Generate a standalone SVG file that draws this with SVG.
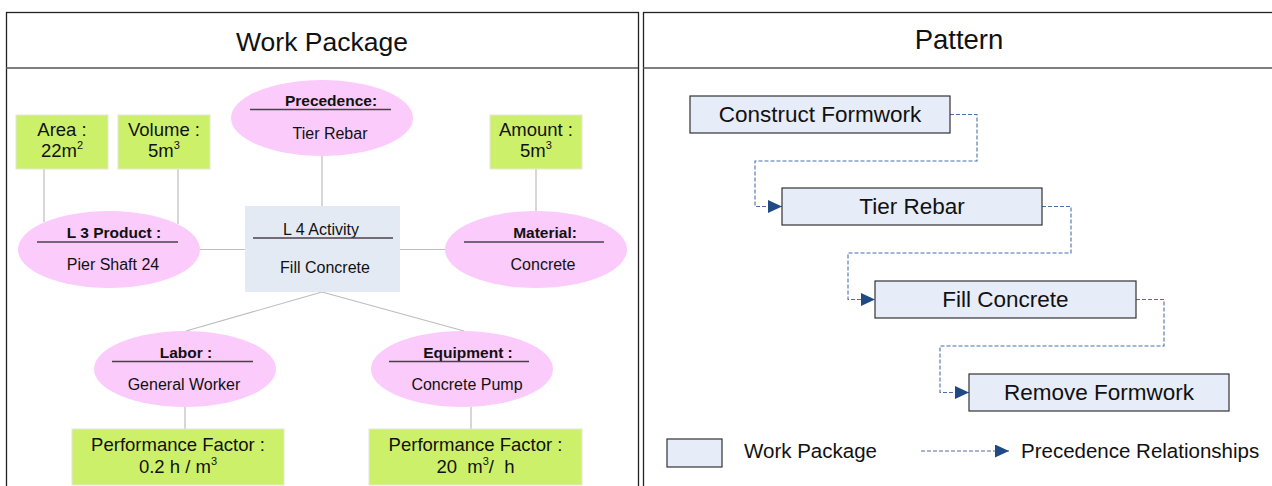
<svg xmlns="http://www.w3.org/2000/svg" width="1272" height="486" viewBox="0 0 1272 486">
<style>
text{font-family:"Liberation Sans",Arial,sans-serif;fill:#111}
.title{font-size:26.5px;text-anchor:middle}
.panel{fill:#fff;stroke:#222;stroke-width:1.3}
.sep{stroke:#555;stroke-width:1.5}
.green{fill:#CDF06A;stroke:#E4E8D8;stroke-width:1}
.pink{fill:#FBCBFB}
.act{fill:#E4EAF4}
.t18{font-size:18.5px;text-anchor:middle}
.t16{font-size:16px;text-anchor:middle}
.b15{font-size:15.5px;font-weight:bold;text-anchor:middle}
.ul{stroke:#4A404A;stroke-width:1.4}
.gl{stroke:#BDBDBD;stroke-width:1.2;fill:none}
.wp{fill:#E6ECF8;stroke:#333;stroke-width:1.2}
.t22{font-size:22.5px;text-anchor:middle}
.t20{font-size:20.5px}
.dash{fill:none;stroke:#4D6FA8;stroke-width:1.1;stroke-dasharray:4 2}
</style>
<defs>
<marker id="arr" viewBox="0 0 14 13" refX="14" refY="6.5" markerWidth="14" markerHeight="13" markerUnits="userSpaceOnUse" orient="auto">
<path d="M0,0 L14,6.5 L0,13 z" fill="#1F4A86"/>
</marker>
</defs>
<g id="panel-left">
<rect class="panel" x="6.5" y="12.5" width="632" height="490"/>
<line class="sep" x1="6" y1="68" x2="638" y2="68"/>
<text class="title" x="322" y="51">Work Package</text>
</g>
<g id="panel-right">
<rect class="panel" x="643.5" y="12.5" width="640" height="490"/>
<line class="sep" x1="643" y1="68" x2="1272" y2="68"/>
<text class="title" x="959" y="49" style="font-size:27.5px">Pattern</text>
</g>
<g id="connectors">
<line class="gl" x1="322" y1="156" x2="322" y2="206"/>
<line class="gl" x1="44" y1="169" x2="44" y2="222"/>
<line class="gl" x1="178" y1="169" x2="178" y2="224"/>
<line class="gl" x1="536" y1="169" x2="536" y2="211"/>
<line class="gl" x1="200" y1="249.5" x2="245" y2="249.5"/>
<line class="gl" x1="400" y1="249.5" x2="445" y2="249.5"/>
<line class="gl" x1="322" y1="292" x2="186" y2="331"/>
<line class="gl" x1="322" y1="292" x2="464" y2="331"/>
<line class="gl" x1="185" y1="407" x2="185" y2="429"/>
<line class="gl" x1="471" y1="407" x2="471" y2="429"/>
<path class="dash" d="M950,114.5 H977 V161 H755 V206.5 H782" marker-end="url(#arr)"/>
<path class="dash" d="M1042,206.5 H1071 V253 H848 V299.5 H875" marker-end="url(#arr)"/>
<path class="dash" d="M1136,299.5 H1164 V346 H940 V392.5 H969" marker-end="url(#arr)"/>
<path class="dash" d="M921,451 H1009" marker-end="url(#arr)"/>
</g>
<g id="area">
<rect class="green" x="16" y="115" width="92" height="54"/>
<text class="t18" x="62" y="136">Area :</text>
<text class="t18" x="62" y="157">22m<tspan font-size="11" dy="-8">2</tspan></text>
</g>
<g id="volume">
<rect class="green" x="118" y="115" width="92" height="54"/>
<text class="t18" x="164" y="136">Volume :</text>
<text class="t18" x="164" y="157">5m<tspan font-size="11" dy="-8">3</tspan></text>
</g>
<g id="amount">
<rect class="green" x="490" y="115" width="92" height="54"/>
<text class="t18" x="536" y="136">Amount :</text>
<text class="t18" x="536" y="157">5m<tspan font-size="11" dy="-8">3</tspan></text>
</g>
<g id="precedence">
<ellipse class="pink" cx="322" cy="118" rx="91" ry="38"/>
<text class="b15" x="331" y="106">Precedence:</text>
<line class="ul" x1="250" y1="109.5" x2="391" y2="109.5"/>
<text class="t16" x="330" y="139">Tier Rebar</text>
</g>
<g id="product">
<ellipse class="pink" cx="109" cy="249.5" rx="91" ry="38.5"/>
<text class="b15" x="114" y="238">L 3 Product :</text>
<line class="ul" x1="37" y1="242" x2="178" y2="242"/>
<text class="t16" x="113" y="270">Pier Shaft 24</text>
</g>
<g id="activity">
<rect class="act" x="245" y="206" width="155" height="86"/>
<text class="t16" x="321" y="234.5">L 4 Activity</text>
<line class="ul" x1="253" y1="238" x2="393" y2="238"/>
<text class="t16" x="325" y="273">Fill Concrete</text>
</g>
<g id="material">
<ellipse class="pink" cx="536" cy="249.5" rx="91" ry="38.5"/>
<text class="b15" x="545" y="238">Material:</text>
<line class="ul" x1="464" y1="242" x2="604" y2="242"/>
<text class="t16" x="543" y="270">Concrete</text>
</g>
<g id="labor">
<ellipse class="pink" cx="185" cy="369" rx="91" ry="38"/>
<text class="b15" x="186" y="358">Labor :</text>
<line class="ul" x1="112" y1="361.5" x2="253" y2="361.5"/>
<text class="t16" x="184" y="390">General Worker</text>
</g>
<g id="equipment">
<ellipse class="pink" cx="462" cy="369" rx="91" ry="38"/>
<text class="b15" x="468" y="358">Equipment :</text>
<line class="ul" x1="389" y1="361.5" x2="529" y2="361.5"/>
<text class="t16" x="467" y="390">Concrete Pump</text>
</g>
<g id="perf-labor">
<rect class="green" x="72" y="429" width="212" height="56"/>
<text class="t18" x="178" y="451">Performance Factor :</text>
<text class="t18" x="178" y="473">0.2 h / m<tspan font-size="11" dy="-8">3</tspan></text>
</g>
<g id="perf-equipment">
<rect class="green" x="369" y="429" width="213" height="56"/>
<text class="t18" x="475.5" y="451">Performance Factor :</text>
<text class="t18" x="475.5" y="473" xml:space="preserve">20  m<tspan font-size="11" dy="-8">3</tspan><tspan dy="8">/  h</tspan></text>
</g>
<g id="construct-formwork">
<rect class="wp" x="690" y="96" width="260" height="37"/>
<text class="t22" x="820" y="122">Construct Formwork</text>
</g>
<g id="tier-rebar">
<rect class="wp" x="782" y="188" width="260" height="37"/>
<text class="t22" x="912" y="214">Tier Rebar</text>
</g>
<g id="fill-concrete">
<rect class="wp" x="875" y="281" width="261" height="37"/>
<text class="t22" x="1005.5" y="307">Fill Concrete</text>
</g>
<g id="remove-formwork">
<rect class="wp" x="969" y="374" width="260" height="37"/>
<text class="t22" x="1099" y="400">Remove Formwork</text>
</g>
<g id="legend">
<rect class="wp" x="667" y="439" width="55" height="28"/>
<text class="t20" x="744" y="458">Work Package</text>
<text class="t20" x="1021" y="458">Precedence Relationships</text>
</g>
</svg>
